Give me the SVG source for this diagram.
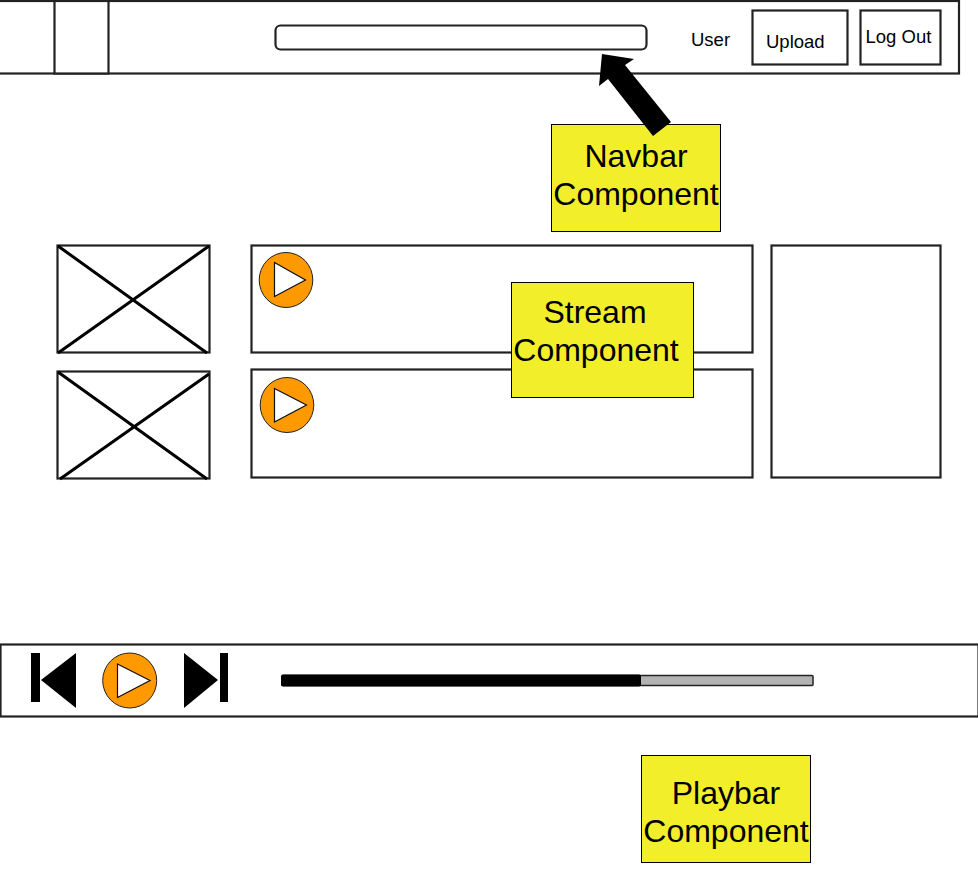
<svg xmlns="http://www.w3.org/2000/svg" width="978" height="880" viewBox="0 0 978 880">
<style>
.b{fill:#fff;stroke:#222;stroke-width:2.200}
.x{stroke:#000;stroke-width:3;fill:none}
.note{fill:#f2ef2a;stroke:#000;stroke-width:1}
.big{font:32px "Liberation Sans",Arial,sans-serif;fill:#000;text-anchor:middle}
.sm{font:18.500px "Liberation Sans",Arial,sans-serif;fill:#000}
.disc{fill:#ff9900;stroke:#222;stroke-width:1}
.tri{fill:#fff;stroke:#111;stroke-width:1.200}
</style>
<rect width="978" height="880" fill="#fff"/>
<g id="navbar">
<rect class="b" x="-5" y="1" width="964" height="72.500"/>
<rect class="b" x="54.500" y="1" width="54" height="72.500"/>
<rect class="b" x="275.500" y="25.500" width="371" height="24" rx="5"/>
<text class="sm" x="691" y="46">User</text>
<g id="upload"><rect class="b" x="752.500" y="10.500" width="95" height="54"/><text class="sm" x="766" y="48">Upload</text></g>
<g id="logout"><rect class="b" x="860.500" y="10.500" width="80" height="54"/><text class="sm" x="865.500" y="43">Log Out</text></g>
</g>
<g id="thumb1"><rect class="b" x="57.500" y="245.500" width="152" height="107"/><path class="x" d="M58 246L207 353M209 246L58 353"/></g>
<g id="thumb2"><rect class="b" x="57.500" y="371.500" width="152" height="107"/><path class="x" d="M58 372L207 479M209 374L60 479"/></g>
<g id="stream1"><rect class="b" x="251.500" y="245.500" width="501" height="107"/>
<ellipse class="disc" cx="286" cy="280" rx="26.800" ry="27.500"/><path class="tri" d="M274.500 262.500L305.500 280L274.500 296.500Z"/></g>
<g id="stream2"><rect class="b" x="251.500" y="369.500" width="501" height="108"/>
<ellipse class="disc" cx="287" cy="405" rx="26.800" ry="27.500"/><path class="tri" d="M274.500 388.500L306.500 405L274.500 422Z"/></g>
<g id="sidebar"><rect class="b" x="771.500" y="245.500" width="169" height="232"/></g>
<g id="playbar">
<rect class="b" x="0.500" y="644.500" width="978" height="72"/>
<rect x="31" y="653" width="9" height="49" fill="#000"/><path d="M41 680L76 653V708Z" fill="#000"/>
<ellipse class="disc" cx="129.700" cy="680.500" rx="27" ry="27.500"/><path class="tri" d="M117.500 664L150 680.500L117.500 697.500Z"/>
<path d="M184 653L218 680L184 708Z" fill="#000"/><rect x="220" y="653" width="8" height="49" fill="#000"/>
<rect x="282" y="675.500" width="531" height="10" rx="1" fill="#b3b3b3" stroke="#222" stroke-width="1.500"/>
<rect x="281" y="674.500" width="360" height="12" rx="2" fill="#000"/>
</g>
<g id="navbar-note"><rect class="note" x="551.500" y="124.500" width="169" height="107"/><text class="big" x="636" y="167">Navbar</text><text class="big" x="636" y="205">Component</text></g>
<g id="stream-note"><rect class="note" x="511.500" y="282.500" width="182" height="115"/><text class="big" x="595" y="323">Stream</text><text class="big" x="596" y="361">Component</text></g>
<g id="playbar-note"><rect class="note" x="641.500" y="755.500" width="169" height="107"/><text class="big" x="726" y="804">Playbar</text><text class="big" x="726" y="842">Component</text></g>
<g id="connectors">
<path d="M602 54L634 59L625 65L671 122L653 136L608 79L599 86Z" fill="#000"/>
</g>
</svg>
